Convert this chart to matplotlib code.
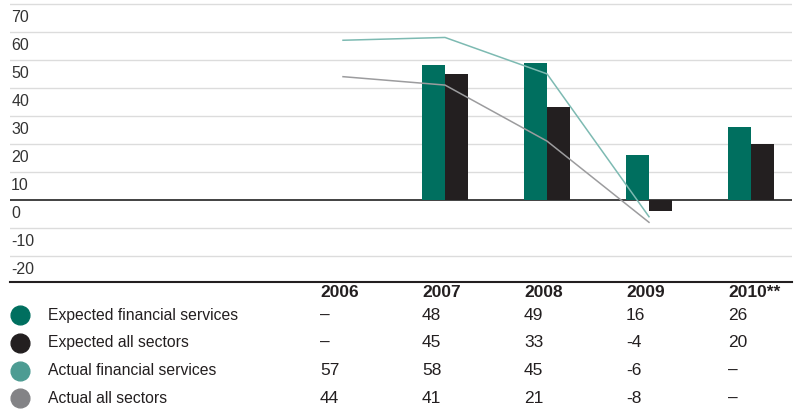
import numpy as np
import matplotlib
matplotlib.use("Agg")
import matplotlib.pyplot as plt

plt.rcParams['font.family'] = ['Liberation Sans', 'DejaVu Sans']

# 数据
years = ['2006', '2007', '2008', '2009', '2010**']
exp_fin = [None, 48, 49, 16, 26]
exp_all = [None, 45, 33, -4, 20]
act_fin = [57, 58, 45, -6, None]
act_all = [44, 41, 21, -8, None]
series_names = ['Expected financial services', 'Expected all sectors',
                'Actual financial services', 'Actual all sectors']
yticks = [70, 60, 50, 40, 30, 20, 10, 0, -10, -20]

# 颜色
c_exp_fin = '#006f5f'
c_exp_all = '#231f20'
c_act_fin = '#4d9c93'
c_act_all = '#838386'
c_line_fin = '#7dbab2'
c_line_all = '#9c9c9e'
text_col = '#231f20'

W, H = 803, 411
fig = plt.figure(figsize=(W / 100, H / 100), dpi=100)
ax_l, ax_r, ax_t, ax_b = 10, 792, 3, 282
ax = fig.add_axes([ax_l / W, 1 - ax_b / H, (ax_r - ax_l) / W, (ax_b - ax_t) / H])
ah = ax_b - ax_t

x = np.arange(len(years))
bw = 0.225

# 网格线和刻度标签
for v in yticks:
    if v == 0:
        ax.axhline(v, color='#333333', lw=1.3, zorder=2)
    else:
        ax.axhline(v, color='#dcdcdc', lw=1.0, zorder=0)
    ax.text(0.0015, v - 5.0, str(v), transform=ax.get_yaxis_transform(),
            ha='left', va='center', fontsize=11.5, color='#333333')

# 柱状图
xb = [i for i, v in enumerate(exp_fin) if v is not None]
ax.bar(np.array(xb) - bw / 2, [exp_fin[i] for i in xb], width=bw, color=c_exp_fin, zorder=3)
ax.bar(np.array(xb) + bw / 2, [exp_all[i] for i in xb], width=bw, color=c_exp_all, zorder=3)

# 折线图
xl = [i for i, v in enumerate(act_fin) if v is not None]
ax.plot(xl, [act_fin[i] for i in xl], color=c_line_fin, lw=1.1, zorder=4)
ax.plot(xl, [act_all[i] for i in xl], color=c_line_all, lw=1.1, zorder=4)

ax.set_xlim(-3.265, 4.402)
ax.set_ylim(-29.3, 70.3)
ax.axis('off')
ax.axhline(-29.3, color='#231f20', lw=1.5, clip_on=False)

# 表格
tr = ax.get_xaxis_transform()
hdr_y = -10 / ah
for i, yr in enumerate(years):
    ax.text(i - bw, hdr_y, yr, transform=tr, ha='left', va='center',
            fontsize=12.5, fontweight='bold', color=text_col, clip_on=False)

rows = [exp_fin, exp_all, act_fin, act_all]
colors = [c_exp_fin, c_exp_all, c_act_fin, c_act_all]
for r, (vals, name, col) in enumerate(zip(rows, series_names, colors)):
    yy = -(33 + r * 27.8) / ah
    ax.plot([10 / (ax_r - ax_l)], [yy], 'o', markersize=13.5, color=col,
            transform=ax.transAxes, clip_on=False)
    ax.text(38 / (ax_r - ax_l), yy, name, transform=ax.transAxes, ha='left', va='center',
            fontsize=11.3, color=text_col, clip_on=False)
    for i, v in enumerate(vals):
        s = '–' if v is None else str(v)
        ax.text(i - bw, yy, s, transform=tr, ha='left', va='center',
                fontsize=12.5, color=text_col, clip_on=False)

fig.savefig('out.png', dpi=100)
